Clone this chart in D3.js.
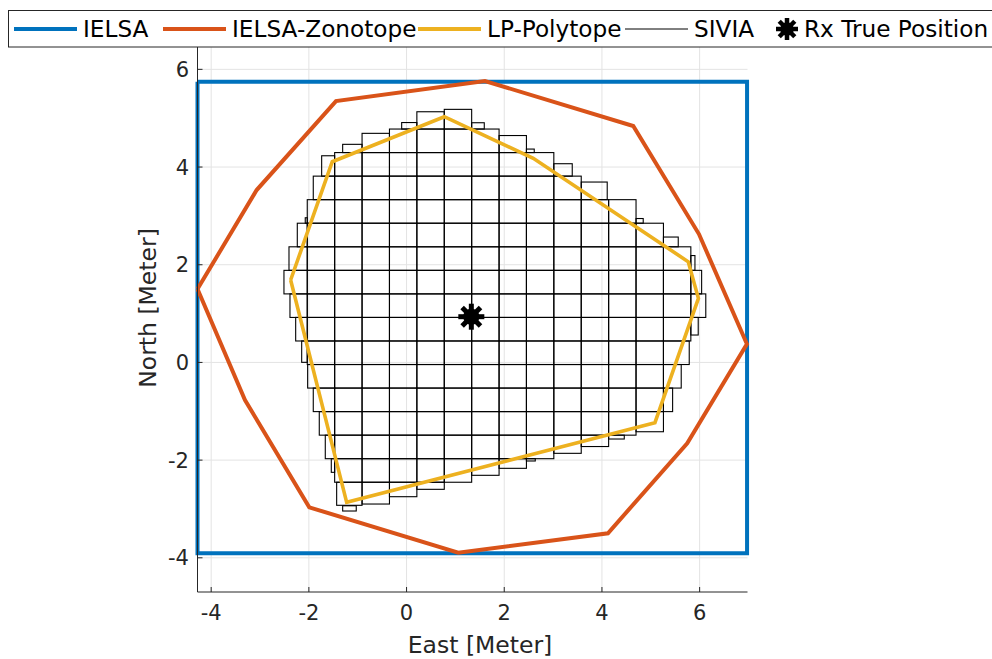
<!DOCTYPE html>
<html><head><meta charset="utf-8">
<script src="https://cdn.jsdelivr.net/npm/d3@7"></script>
<style>body{margin:0;background:#fff} svg{display:block}</style>
</head><body>
<svg id="chart" width="992" height="659"></svg>
<script>
// ---------- data ----------
const ielsaX = [-4.28, 6.971, 6.971, -4.28, -4.28];
const ielsaY = [5.744, 5.744, -3.906, -3.906, 5.744];

const zonoX = [-4.28, -3.069, -1.445, 1.605, 4.641, 5.986, 6.968, 5.746, 4.123, 1.058, -1.992, -3.308, -4.28];
const zonoY = [1.503, 3.529, 5.351, 5.761, 4.840, 2.628, 0.377, -1.656, -3.497, -3.896, -2.966, -0.770, 1.503];

const lpX = [-2.373, -1.521, 0.772, 2.594, 5.767, 5.975, 5.085, -1.226, -2.373];
const lpY = [1.687, 4.109, 5.030, 4.178, 2.061, 1.312, -1.234, -2.864, 1.687];

// SIVIA paving: regular cell edges, full cells per row, and contracted boundary boxes
const siviaXEdges = [-2.594, -2.033, -1.472, -0.911, -0.350, 0.211, 0.772, 1.333, 1.894, 2.454, 3.015, 3.576, 4.137, 4.698, 5.259, 5.820, 6.381];
const siviaYEdges = [5.260, 4.778, 4.296, 3.814, 3.332, 2.850, 2.367, 1.885, 1.403, 0.921, 0.439, -0.043, -0.525, -1.007, -1.489, -1.971, -2.453, -2.935, -3.418];
// [row, firstCol, lastCol]
const siviaFullCells = [
  [1,4,7],[2,2,9],[3,2,10],[4,1,12],[5,1,13],[6,1,14],[7,1,14],[8,1,14],[9,1,14],
  [10,1,13],[11,2,13],[12,2,13],[13,2,12],[14,2,9],[15,2,6]
];
// [x0, x1, y0, y1]
const siviaEdgeBoxes = [
  [-0.100, 0.211, 4.778, 4.911], [0.211, 0.772, 4.778, 5.132], [0.772, 1.333, 4.778, 5.181], [1.333, 1.591, 4.778, 4.907],
  [-0.911, -0.350, 4.296, 4.690], [-1.308, -0.911, 4.296, 4.465], [1.894, 2.454, 4.296, 4.645], [2.454, 2.614, 4.296, 4.368],
  [-1.738, -1.472, 3.814, 4.231], [3.015, 3.392, 3.814, 4.068],
  [-1.910, -1.472, 3.332, 3.814], [3.576, 4.108, 3.332, 3.693],
  [-2.074, -2.033, 2.850, 2.962], [4.698, 4.845, 2.850, 2.946],
  [-2.237, -2.033, 2.367, 2.850], [5.259, 5.562, 2.367, 2.567],
  [-2.407, -2.033, 1.885, 2.367], [5.820, 5.904, 1.885, 2.188],
  [-2.510, -2.033, 1.403, 1.885], [5.820, 6.041, 1.403, 1.885],
  [-2.387, -2.033, 0.921, 1.403], [5.820, 6.126, 0.921, 1.403],
  [-2.270, -2.033, 0.439, 0.921], [5.820, 5.971, 0.561, 0.921],
  [-2.147, -2.033, 0.002, 0.439], [5.259, 5.787, -0.043, 0.439],
  [-2.025, -1.472, -0.525, -0.043], [5.259, 5.623, -0.525, -0.043],
  [-1.910, -1.472, -1.007, -0.525], [5.259, 5.447, -1.007, -0.525],
  [-1.787, -1.472, -1.489, -1.007], [4.698, 5.259, -1.419, -1.007],
  [-1.664, -1.472, -1.971, -1.489], [3.015, 3.576, -1.861, -1.489], [3.576, 4.137, -1.722, -1.489], [4.137, 4.457, -1.568, -1.489],
  [-1.541, -1.472, -2.250, -1.971], [1.333, 1.894, -2.311, -1.971], [1.894, 2.454, -2.168, -1.971], [2.454, 2.635, -2.018, -1.971],
  [-1.431, -0.911, -2.925, -2.453], [-0.911, -0.350, -2.899, -2.453], [-0.350, 0.211, -2.749, -2.453], [0.211, 0.772, -2.598, -2.453],
  [-1.308, -1.030, -3.042, -2.935]
];

const truePos = [1.326, 0.936];

const xTicks = [-4, -2, 0, 2, 4, 6];
const yTicks = [-4, -2, 0, 2, 4, 6];
const xLabel = "East [Meter]";
const yLabel = "North [Meter]";
const legendLabels = ["IELSA", "IELSA-Zonotope", "LP-Polytope", "SIVIA", "Rx True Position"];
const seriesColors = ["#0072BD", "#D95319", "#EDB120", "#000000", "#000000"];

// ---------- layout ----------
const svg = d3.select("#chart");
const FONT = "'DejaVu Sans', sans-serif";
const TXT = "#262626";
const x = d3.scaleLinear().domain([-4.28, 6.98]).range([197.5, 747.5]);
const y = d3.scaleLinear().domain([-4.70, 6.56]).range([592, 42]);
const [X0, X1] = x.range();
const [Y0, Y1] = y.range();

// grid
const g = svg.append("g");
g.selectAll(".gx").data(xTicks).join("line")
  .attr("x1", d => x(d)).attr("x2", d => x(d)).attr("y1", Y0).attr("y2", Y1)
  .attr("stroke", "#e3e3e3").attr("stroke-width", 1);
g.selectAll(".gy").data(yTicks).join("line")
  .attr("y1", d => y(d)).attr("y2", d => y(d)).attr("x1", X0).attr("x2", X1)
  .attr("stroke", "#e3e3e3").attr("stroke-width", 1);

// SIVIA boxes
const boxes = [];
siviaFullCells.forEach(([r, c0, c1]) => {
  for (let c = c0; c <= c1; c++) boxes.push([siviaXEdges[c], siviaXEdges[c + 1], siviaYEdges[r + 1], siviaYEdges[r]]);
});
siviaEdgeBoxes.forEach(b => boxes.push(b));
svg.append("g").selectAll("rect").data(boxes).join("rect")
  .attr("x", d => x(d[0])).attr("width", d => x(d[1]) - x(d[0]))
  .attr("y", d => y(d[3])).attr("height", d => y(d[2]) - y(d[3]))
  .attr("fill", "none").attr("stroke", "#000").attr("stroke-width", 1.1);

// polylines
const line = d3.line().x(d => x(d[0])).y(d => y(d[1]));
const polys = [
  [d3.zip(ielsaX, ielsaY), seriesColors[0], 4],
  [d3.zip(zonoX, zonoY), seriesColors[1], 4],
  [d3.zip(lpX, lpY), seriesColors[2], 3.6]
];
polys.forEach(([pts, col, w]) => {
  svg.append("path").attr("d", line(pts)).attr("fill", "none")
    .attr("stroke", col).attr("stroke-width", w).attr("stroke-linejoin", "miter");
});

// star marker
function star(sel, cx, cy, r, w) {
  const gg = sel.append("g").attr("transform", `translate(${cx},${cy})`);
  for (let k = 0; k < 4; k++) {
    const a = k * Math.PI / 4;
    gg.append("line").attr("x1", -r * Math.cos(a)).attr("y1", -r * Math.sin(a))
      .attr("x2", r * Math.cos(a)).attr("y2", r * Math.sin(a))
      .attr("stroke", "#000").attr("stroke-width", w);
  }
  gg.append("circle").attr("r", r * 0.62).attr("fill", "#000");
}
star(svg, x(truePos[0]), y(truePos[1]), 13, 5);

// axes
svg.append("line").attr("x1", X0).attr("x2", X0).attr("y1", Y0).attr("y2", Y1).attr("stroke", TXT).attr("stroke-width", 1);
svg.append("line").attr("x1", X0).attr("x2", X1).attr("y1", Y0).attr("y2", Y0).attr("stroke", TXT).attr("stroke-width", 1);
svg.selectAll(".tx").data(xTicks).join("line")
  .attr("x1", d => x(d)).attr("x2", d => x(d)).attr("y1", Y0).attr("y2", Y0 - 5).attr("stroke", TXT);
svg.selectAll(".ty").data(yTicks).join("line")
  .attr("y1", d => y(d)).attr("y2", d => y(d)).attr("x1", X0).attr("x2", X0 + 5).attr("stroke", TXT);
svg.selectAll(".txl").data(xTicks).join("text")
  .attr("x", d => x(d)).attr("y", 620).attr("text-anchor", "middle")
  .attr("font-family", FONT).attr("font-size", 21).attr("fill", TXT).text(d => d);
svg.selectAll(".tyl").data(yTicks).join("text")
  .attr("x", 189).attr("y", d => y(d) + 7.5).attr("text-anchor", "end")
  .attr("font-family", FONT).attr("font-size", 21).attr("fill", TXT).text(d => d);
svg.append("text").attr("x", 480).attr("y", 653).attr("text-anchor", "middle")
  .attr("font-family", FONT).attr("font-size", 23.5).attr("fill", TXT).text(xLabel);
svg.append("text").attr("transform", "translate(156,308) rotate(-90)").attr("text-anchor", "middle")
  .attr("font-family", FONT).attr("font-size", 23.5).attr("fill", TXT).text(yLabel);

// legend
const lg = svg.append("g");
lg.append("rect").attr("x", 8.5).attr("y", 10.5).attr("width", 1000).attr("height", 36.5)
  .attr("fill", "#fff").attr("stroke", TXT).attr("stroke-width", 1);
const itemX = [14, 163, 418, 625, 772];
const legW = [4, 4, 4, 1, 0];
legendLabels.forEach((lab, i) => {
  const x0 = itemX[i];
  let tx;
  if (i < 4) {
    lg.append("line").attr("x1", x0).attr("x2", x0 + 63).attr("y1", 29).attr("y2", 29)
      .attr("stroke", seriesColors[i]).attr("stroke-width", legW[i]);
    tx = x0 + 69;
  } else {
    star(lg, 787, 29, 11, 4.5);
    tx = 804;
  }
  lg.append("text").attr("x", tx).attr("y", 37).attr("font-family", FONT).attr("font-size", 23.2)
    .attr("fill", "#000").text(lab);
});
</script>
</body></html>
